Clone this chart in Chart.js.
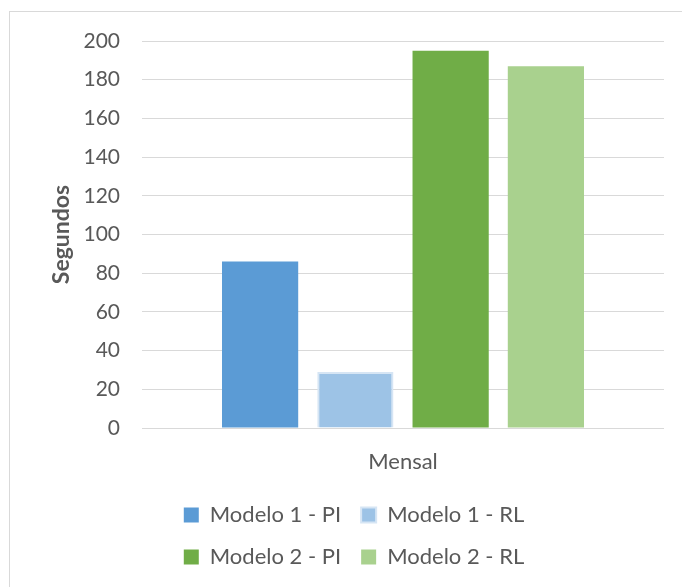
<!DOCTYPE html>
<html>
<head>
<meta charset="utf-8">
<script src="https://cdn.jsdelivr.net/npm/chart.js@4"></script>
<style>
  html, body { margin: 0; padding: 0; background: #ffffff; }
  #wrap { position: relative; width: 682px; height: 587px; overflow: hidden; }
  #frame { position: absolute; left: 9px; top: 11px; width: 720px; height: 640px;
           border: 1px solid #d9d9d9; box-sizing: border-box; }
  canvas { position: absolute; left: 0; top: 0; }
</style>
</head>
<body>
<div id="wrap">
  <div id="frame"></div>
  <canvas id="chart" width="682" height="587"></canvas>
</div>
<script>
// Tempo de execução (segundos) por modelo e técnica, horizonte mensal
const categories = ['Mensal'];
const seriesNames = ['Modelo 1 - PI', 'Modelo 1 - RL', 'Modelo 2 - PI', 'Modelo 2 - RL'];
const seriesValues = [[86], [29], [195], [187]];
const seriesColors = ['#5B9BD5', '#9DC3E6', '#70AD47', '#A9D18E'];
const yTicks = [0, 20, 40, 60, 80, 100, 120, 140, 160, 180, 200];

const textColor = '#595959';
const fontFamily = 'Lato, "Open Sans", sans-serif';

const datasets = seriesNames.map((name, i) => ({
  label: name,
  data: seriesValues[i],
  backgroundColor: seriesColors[i],
  borderColor: i === 1 ? '#d6e5f4' : seriesColors[i],
  borderWidth: i === 1 ? 2 : 0,
  barPercentage: 0.8,
  categoryPercentage: 0.73
}));

// The legend is centred under the whole frame rather than under the plot area
const legendCentre = {
  id: 'legendCentre',
  afterLayout(chart) {
    const lg = chart.legend;
    const half = (lg.right - lg.left) / 2;
    const centre = 354;
    lg.left = centre - half;
    lg.right = centre + half;
  }
};

new Chart(document.getElementById('chart'), {
  type: 'bar',
  data: { labels: categories, datasets },
  plugins: [legendCentre],
  options: {
    responsive: false,
    animation: false,
    layout: { padding: { left: 0, right: 18, top: 41, bottom: 9 } },
    scales: {
      x: {
        grid: { display: false, drawTicks: false },
        border: { display: false },
        ticks: { color: textColor, font: { family: fontFamily, size: 22 }, padding: 21 },
        afterFit: (scale) => { scale.height = 56; }
      },
      y: {
        min: 0,
        max: 200,
        afterBuildTicks: (scale) => { scale.ticks = yTicks.map(v => ({ value: v })); },
        grid: { color: '#d9d9d9', lineWidth: 1, drawTicks: false },
        border: { display: false },
        ticks: { color: textColor, font: { family: fontFamily, size: 21 }, padding: 22 },
        title: {
          display: true,
          text: 'Segundos',
          color: textColor,
          font: { family: fontFamily, size: 23, weight: 'bold' },
          padding: { top: 48, bottom: 0 }
        },
        afterFit: (scale) => { scale.width = 142; }
      }
    },
    plugins: {
      tooltip: { enabled: false },
      legend: {
        position: 'bottom',
        fullSize: false,
        labels: {
          color: textColor,
          font: { family: fontFamily, size: 22 },
          boxWidth: 15,
          boxHeight: 15,
          padding: 20
        }
      }
    }
  }
});
</script>
</body>
</html>
